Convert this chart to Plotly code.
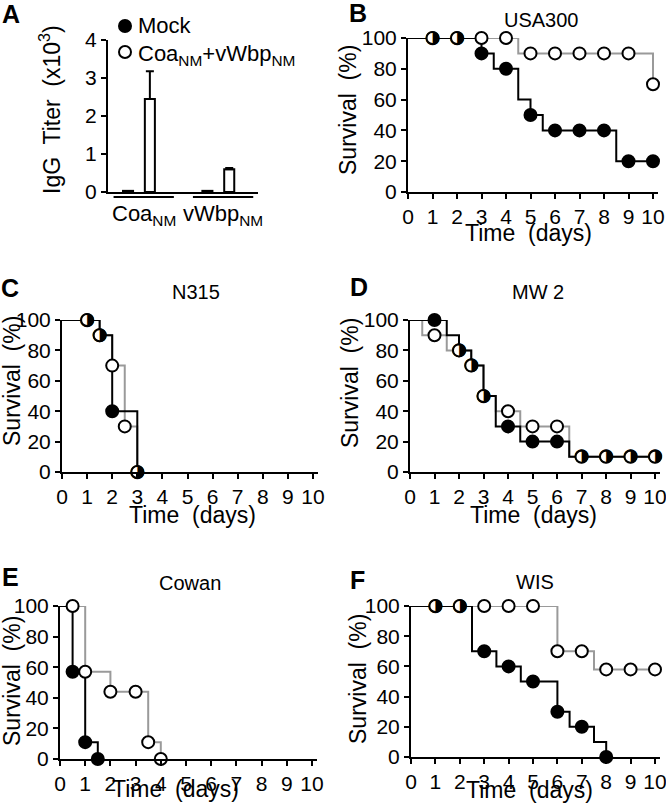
import plotly.graph_objects as go

W, H = 666, 807
FONT = 'Liberation Sans, Arial, sans-serif'
GRAY = '#9a9a9a'

# ---- panel A: IgG titer (x10^3) ----
antigens = ['Coa<sub>NM</sub>', 'vWbp<sub>NM</sub>']
titer_mock = [0.03, 0.03]
titer_imm = [2.45, 0.6]
err_imm = [0.73, 0.03]

# ---- survival panels: step curves (time, %) and symbols (day, %) ----
usa300_mock_t = [0, 3, 3.5, 4.5, 5, 5.5, 8.5, 10]
usa300_mock_s = [100, 90, 80, 60, 50, 40, 20, 20]
usa300_mock_dx = [1, 2, 3, 4, 5, 6, 7, 8, 9, 10]
usa300_mock_dy = [100, 100, 90, 80, 50, 40, 40, 40, 20, 20]
usa300_imm_t = [0, 4.5, 10]
usa300_imm_s = [100, 90, 70]
usa300_imm_dx = [1, 2, 3, 4, 5, 6, 7, 8, 9, 10]
usa300_imm_dy = [100, 100, 100, 100, 90, 90, 90, 90, 90, 70]

n315_mock_t = [0, 1.5, 2, 3]
n315_mock_s = [100, 90, 40, 0]
n315_mock_dx = [1, 1.5, 2, 3]
n315_mock_dy = [100, 90, 40, 0]
n315_imm_t = [0, 1.5, 2, 2.5, 3]
n315_imm_s = [100, 90, 70, 30, 0]
n315_imm_dx = [1, 1.5, 2, 2.5, 3]
n315_imm_dy = [100, 90, 70, 30, 0]

mw2_mock_t = [0, 1.5, 2, 2.5, 3, 3.5, 4.5, 6.5, 10]
mw2_mock_s = [100, 90, 80, 70, 50, 30, 20, 10, 10]
mw2_mock_dx = [1, 2, 2.5, 3, 4, 5, 6, 7, 8, 9, 10]
mw2_mock_dy = [100, 80, 70, 50, 30, 20, 20, 10, 10, 10, 10]
mw2_imm_t = [0, 0.5, 1.5, 2.5, 3, 3.5, 4.5, 6.5, 10]
mw2_imm_s = [100, 90, 80, 70, 50, 40, 30, 10, 10]
mw2_imm_dx = [1, 2, 2.5, 3, 4, 5, 6, 7, 8, 9, 10]
mw2_imm_dy = [90, 80, 70, 50, 40, 30, 30, 10, 10, 10, 10]

cowan_mock_t = [0, 0.5, 1, 1.5]
cowan_mock_s = [100, 57, 11, 0]
cowan_mock_dx = [0.5, 1, 1.5]
cowan_mock_dy = [57, 11, 0]
cowan_imm_t = [0, 1, 2, 3.5, 4]
cowan_imm_s = [100, 57, 44, 11, 0]
cowan_imm_dx = [0.5, 1, 2, 3, 3.5, 4]
cowan_imm_dy = [100, 57, 44, 44, 11, 0]

wis_mock_t = [0, 2.5, 3.5, 4.5, 6, 6.5, 7.5, 8]
wis_mock_s = [100, 70, 60, 50, 30, 20, 10, 0]
wis_mock_dx = [1, 2, 3, 4, 5, 6, 7, 8]
wis_mock_dy = [100, 100, 70, 60, 50, 30, 20, 0]
wis_imm_t = [0, 6, 7.5, 10]
wis_imm_s = [100, 70, 58, 58]
wis_imm_dx = [1, 2, 3, 4, 5, 6, 7, 8, 9, 10]
wis_imm_dy = [100, 100, 100, 100, 100, 70, 70, 58, 58, 58]

day_ticks = list(range(0, 11))
pct_ticks = [0, 20, 40, 60, 80, 100]


def px_x(v):
    return v / W


def px_y(v):
    return 1 - v / H


fig = go.Figure()

# panel A bars
fig.add_trace(go.Bar(x=[0, 1], y=titer_mock, marker=dict(color='black', line=dict(color='black', width=2)),
                     offsetgroup='mock', xaxis='x', yaxis='y', showlegend=False))
fig.add_trace(go.Bar(x=[0, 1], y=titer_imm, marker=dict(color='white', line=dict(color='black', width=2)),
                     error_y=dict(type='data', array=err_imm, arrayminus=[0, 0], symmetric=False,
                                  color='black', thickness=2, width=4),
                     offsetgroup='imm', xaxis='x', yaxis='y', showlegend=False))

panels = [
    # name, axis suffix, x px (left, px per day), y px (top, bottom), data
    ('USA300', '2', 408, 24.5, 38, 192,
     usa300_mock_t, usa300_mock_s, usa300_mock_dx, usa300_mock_dy,
     usa300_imm_t, usa300_imm_s, usa300_imm_dx, usa300_imm_dy),
    ('N315', '3', 62, 25.1, 320, 472,
     n315_mock_t, n315_mock_s, n315_mock_dx, n315_mock_dy,
     n315_imm_t, n315_imm_s, n315_imm_dx, n315_imm_dy),
    ('MW 2', '4', 410, 24.5, 320, 472,
     mw2_mock_t, mw2_mock_s, mw2_mock_dx, mw2_mock_dy,
     mw2_imm_t, mw2_imm_s, mw2_imm_dx, mw2_imm_dy),
    ('Cowan', '5', 60, 25.2, 606, 759,
     cowan_mock_t, cowan_mock_s, cowan_mock_dx, cowan_mock_dy,
     cowan_imm_t, cowan_imm_s, cowan_imm_dx, cowan_imm_dy),
    ('WIS', '6', 411, 24.4, 606, 757,
     wis_mock_t, wis_mock_s, wis_mock_dx, wis_mock_dy,
     wis_imm_t, wis_imm_s, wis_imm_dx, wis_imm_dy),
]

axis_common = dict(showline=True, linecolor='black', linewidth=2, ticks='outside', ticklen=5,
                   tickwidth=2, tickcolor='black', showgrid=False, zeroline=False, automargin=False,
                   ticklabeloverflow='allow',
                   tickfont=dict(family=FONT, size=21, color='black'))

XMAX = 10.2
for name, sfx, x0, ppd, ytop, ybot, mt, ms, mdx, mdy, it, is_, idx, idy in panels:
    xa, ya = 'x' + sfx, 'y' + sfx
    fig.layout['xaxis' + sfx] = dict(domain=[px_x(x0), px_x(x0 + ppd * XMAX)], range=[0, XMAX],
                                     tickvals=day_ticks, anchor=ya, **axis_common)
    fig.layout['yaxis' + sfx] = dict(domain=[px_y(ybot), px_y(ytop)], range=[0, 100],
                                     tickvals=pct_ticks, anchor=xa, **axis_common)
    # step curves
    fig.add_trace(go.Scatter(x=it, y=is_, mode='lines', line=dict(shape='hv', color=GRAY, width=2),
                             xaxis=xa, yaxis=ya, showlegend=False, cliponaxis=False))
    fig.add_trace(go.Scatter(x=mt, y=ms, mode='lines', line=dict(shape='hv', color='black', width=2),
                             xaxis=xa, yaxis=ya, showlegend=False, cliponaxis=False))
    both = set(zip(mdx, mdy)) & set(zip(idx, idy))
    o = [p for p in zip(idx, idy) if p not in both]
    f = [p for p in zip(mdx, mdy) if p not in both]
    h = sorted(both)
    if o:
        fig.add_trace(go.Scatter(x=[p[0] for p in o], y=[p[1] for p in o], mode='markers',
                                 marker=dict(symbol='circle', size=12, color='white',
                                             line=dict(color='black', width=2)),
                                 xaxis=xa, yaxis=ya, showlegend=False, cliponaxis=False))
    if f:
        fig.add_trace(go.Scatter(x=[p[0] for p in f], y=[p[1] for p in f], mode='markers',
                                 marker=dict(symbol='circle', size=12, color='black',
                                             line=dict(color='black', width=2)),
                                 xaxis=xa, yaxis=ya, showlegend=False, cliponaxis=False))
    if h:
        fig.add_trace(go.Scatter(x=[p[0] for p in h], y=[p[1] for p in h], mode='markers+text',
                                 marker=dict(symbol='circle', size=12, color='white',
                                             line=dict(color='black', width=2)),
                                 text=['\u25D1'] * len(h), textposition='middle center',
                                 textfont=dict(family='DejaVu Sans', size=18, color='black'),
                                 xaxis=xa, yaxis=ya, showlegend=False, cliponaxis=False))

fig.update_layout(
    width=W, height=H, margin=dict(l=0, r=0, t=0, b=0, pad=0, autoexpand=False),
    paper_bgcolor='white', plot_bgcolor='white',
    barmode='group', bargap=0.45, bargroupgap=0.54,
    font=dict(family=FONT, size=21, color='black'),
    xaxis=dict(domain=[px_x(108), px_x(258)], range=[-0.39, 1.5], showline=True, linecolor='black',
               linewidth=2, showticklabels=False, ticks='', showgrid=False, zeroline=False,
               automargin=False, anchor='y'),
    yaxis=dict(domain=[px_y(192), px_y(40)], range=[0, 4], dtick=1, anchor='x', **axis_common),
)

ann = []
shapes = []


def note(text, x, y, size=23, **kw):
    d = dict(text=text, xref='paper', yref='paper', x=px_x(x), y=px_y(y), showarrow=False,
             xanchor='center', yanchor='middle', font=dict(size=size))
    d.update(kw)
    ann.append(d)


# panel A group underlines and labels
for i, lab in enumerate(antigens):
    shapes.append(dict(type='line', xref='x', yref='paper', x0=i - 0.32, x1=i + 0.44,
                       y0=px_y(197), y1=px_y(197), line=dict(color='black', width=2)))
    ann.append(dict(text=lab, xref='x', yref='paper', x=i + 0.06, y=px_y(215), showarrow=False,
                    font=dict(size=22), xanchor='center', yanchor='middle'))
note('IgG\u00a0 Titer\u00a0 (x10<sup>3</sup>)', 50, 110, textangle=-90)
# legend of panel A
shapes.append(dict(type='circle', xref='paper', yref='paper', x0=px_x(119), x1=px_x(131),
                   y0=px_y(32), y1=px_y(20), fillcolor='black', line=dict(color='black', width=2)))
shapes.append(dict(type='circle', xref='paper', yref='paper', x0=px_x(119), x1=px_x(131),
                   y0=px_y(58), y1=px_y(46), fillcolor='white', line=dict(color='black', width=2)))
note('Mock', 136, 26, size=22, xanchor='left')
note('Coa<sub>NM</sub>+vWbp<sub>NM</sub>', 136, 55, size=22, xanchor='left')

# panel titles, axis titles, letters
titles = [('USA300', 541, 20), ('N315', 196, 292), ('MW 2', 538, 292), ('Cowan', 190, 583), ('WIS', 535, 582)]
for t, x, y in titles:
    note(t, x, y, size=20)
ytitles = [(348, 110), (12, 381), (350, 383), (12, 681), (358, 679)]
for x, y in ytitles:
    note('Survival\u00a0 (%)', x, y, textangle=-90)
xtitles = [(528, 233), (192, 515), (533, 515), (175, 789), (529, 790)]
for x, y in xtitles:
    note('Time\u00a0 (days)', x, y)
letters = [('A', 11, 14), ('B', 358, 13), ('C', 10, 288), ('D', 359, 287), ('E', 10, 577), ('F', 357, 580)]
for t, x, y in letters:
    note('<b>%s</b>' % t, x, y, size=25)

fig.update_layout(annotations=ann, shapes=shapes)
# drop the page's default body margin so the figure starts at the window's corner
fig.write_html('out.html', config={'displayModeBar': False},
               post_script="document.body.style.margin='0';")
